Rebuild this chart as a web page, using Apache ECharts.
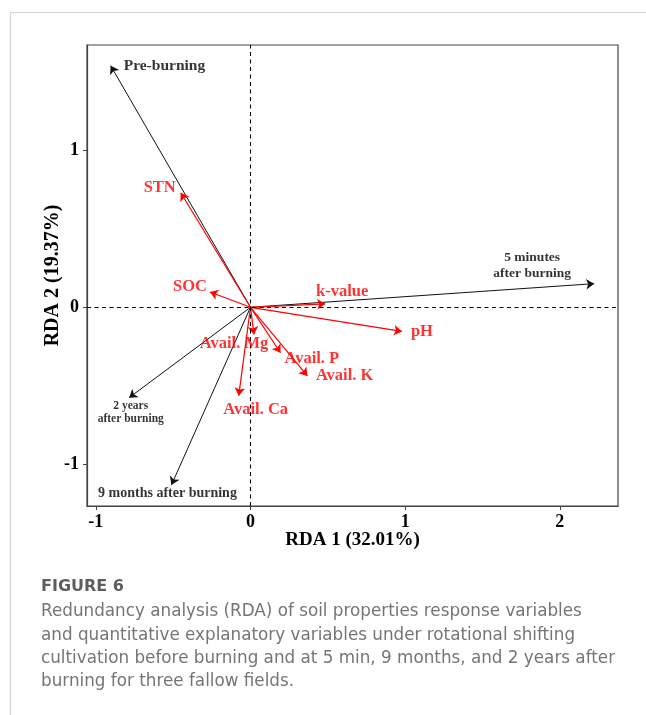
<!DOCTYPE html>
<html><head><meta charset="utf-8">
<script src="https://cdn.jsdelivr.net/npm/echarts@6/dist/echarts.min.js"></script>
<style>html,body{margin:0;padding:0;background:#fff}#c{width:646px;height:715px}</style>
</head><body><div id="c"></div>
<script>
// Explanatory variables (black arrows)
const envNames = ['Pre-burning', '5 minutes\nafter burning', '9 months after burning', '2 years\nafter burning'];
const envRDA1 = [-0.904, 2.222, -0.511, -0.785];
const envRDA2 = [1.542, 0.151, -1.134, -0.577];
// Response variables (red arrows)
const soilNames = ['STN', 'SOC', 'k-value', 'pH', 'Avail. Mg', 'Avail. P', 'Avail. K', 'Avail. Ca'];
const soilRDA1 = [-0.451, -0.262, 0.483, 0.979, 0.023, 0.194, 0.368, -0.076];
const soilRDA2 = [0.731, 0.098, 0.022, -0.154, -0.173, -0.290, -0.438, -0.564];
// Ticks
const xTickValues = [-1, 0, 1, 2];
const yTickValues = [-1, 0, 1];
const xAxisTitle = 'RDA 1 (32.01%)';
const yAxisTitle = 'RDA 2 (19.37%)';
const captionTitle = 'FIGURE 6';
const captionLines = [
  'Redundancy analysis (RDA) of soil properties response variables',
  'and quantitative explanatory variables under rotational shifting',
  'cultivation before burning and at 5 min, 9 months, and 2 years after',
  'burning for three fallow fields.'
];

// Label placement / style (kept separate from data)
const labelStyle = {
  'Pre-burning': {dx: 13, dy: 0, align: 'left', size: 15.5, lh: 16},
  '5 minutes\nafter burning': {dx: -62, dy: -18, align: 'center', size: 13.5, lh: 15.6},
  '9 months after burning': {dx: -4, dy: 8.5, align: 'center', size: 14, lh: 15},
  '2 years\nafter burning': {dx: 1.7, dy: 14.6, align: 'center', size: 11.5, lh: 12.7},
  'STN': {dx: -5, dy: -4.7, align: 'right', size: 16.5, lh: 17},
  'SOC': {dx: -3, dy: -5, align: 'right', size: 16.5, lh: 17},
  'k-value': {dx: 17, dy: -12.5, align: 'center', size: 16.5, lh: 17},
  'pH': {dx: 9, dy: 0, align: 'left', size: 16.5, lh: 17},
  'Avail. Mg': {dx: -20, dy: 9, align: 'center', size: 16.5, lh: 17},
  'Avail. P': {dx: 4, dy: 5.5, align: 'left', size: 16.5, lh: 17},
  'Avail. K': {dx: 8.5, dy: 0, align: 'left', size: 16.5, lh: 17},
  'Avail. Ca': {dx: 17, dy: 14, align: 'center', size: 16.5, lh: 17}
};

const SERIF = '"Liberation Serif", "Times New Roman", serif';
const BLACK = '#111';
const RED = '#ff0000';

function arrowData(names, xs, ys) {
  return names.map((n, i) => ({name: n, coords: [[0, 0], [xs[i], ys[i]]]}));
}
function labelData(names, xs, ys, color) {
  return names.map((n, i) => {
    const s = labelStyle[n];
    return {
      name: n,
      value: [xs[i], ys[i]],
      label: {
        show: true, formatter: n, position: 'inside', offset: [s.dx, s.dy],
        align: s.align, verticalAlign: 'middle', fontSize: s.size, lineHeight: s.lh,
        fontFamily: SERIF, fontWeight: 'bold', color: color
      }
    };
  });
}

const chart = echarts.init(document.getElementById('c'), null, {renderer: 'canvas'});

const axisCommon = {
  type: 'value',
  splitLine: {show: false},
  axisLine: {show: true, onZero: false, lineStyle: {color: '#444', width: 1.2}},
  axisLabel: {fontFamily: SERIF, fontWeight: 'bold', fontSize: 18, color: '#000', margin: 8},
  nameTextStyle: {fontFamily: SERIF, fontWeight: 'bold', color: '#000'},
  nameLocation: 'middle',
  nameMoveOverlap: false
};

chart.setOption({
  animation: false,
  backgroundColor: '#fff',
  grid: {left: 87, right: 28, top: 45, bottom: 209, show: true, borderColor: '#444', borderWidth: 1.2, containLabel: false, outerBoundsMode: 'none'},
  xAxis: Object.assign({}, axisCommon, {
    min: -1.057, max: 2.376,
    axisTick: {show: true, length: 4, customValues: xTickValues, lineStyle: {color: '#444'}},
    axisLabel: Object.assign({}, axisCommon.axisLabel, {customValues: xTickValues, margin: 7}),
    name: xAxisTitle, nameGap: 25,
    nameTextStyle: Object.assign({}, axisCommon.nameTextStyle, {fontSize: 19})
  }),
  yAxis: Object.assign({}, axisCommon, {
    min: -1.268, max: 1.674,
    axisTick: {show: true, length: 4, customValues: yTickValues, lineStyle: {color: '#444'}},
    axisLabel: Object.assign({}, axisCommon.axisLabel, {customValues: yTickValues, margin: 8}),
    name: yAxisTitle, nameGap: 24,
    nameTextStyle: Object.assign({}, axisCommon.nameTextStyle, {fontSize: 20})
  }),
  series: [
    {
      type: 'scatter', data: [], z: 1, silent: true,
      markLine: {
        silent: true, symbol: ['none', 'none'], label: {show: false},
        lineStyle: {type: [4, 3.5], color: '#000', width: 1.1},
        data: [{xAxis: 0}, {yAxis: 0}]
      }
    },
    {
      type: 'lines', coordinateSystem: 'cartesian2d', z: 2, silent: true,
      symbol: ['none', 'arrow'], symbolSize: 8,
      lineStyle: {color: BLACK, width: 1, opacity: 1},
      data: arrowData(envNames, envRDA1, envRDA2)
    },
    {
      type: 'lines', coordinateSystem: 'cartesian2d', z: 3, silent: true,
      symbol: ['none', 'arrow'], symbolSize: 8,
      lineStyle: {color: RED, width: 1.2, opacity: 1},
      data: arrowData(soilNames, soilRDA1, soilRDA2)
    },
    {
      type: 'scatter', z: 4, silent: true, symbolSize: 1,
      itemStyle: {color: 'transparent'},
      data: labelData(envNames, envRDA1, envRDA2, '#000')
    },
    {
      type: 'scatter', z: 5, silent: true, symbolSize: 1,
      itemStyle: {color: 'transparent'},
      data: labelData(soilNames, soilRDA1, soilRDA2, RED)
    }
  ],
  graphic: [
    {type: 'line', silent: true, shape: {x1: 10.5, y1: 12.5, x2: 646, y2: 12.5}, style: {stroke: '#d2d2d2', lineWidth: 1.2}},
    {type: 'line', silent: true, shape: {x1: 10.5, y1: 12.5, x2: 10.5, y2: 715}, style: {stroke: '#d2d2d2', lineWidth: 1.2}},
    {type: 'text', silent: true, x: 41, y: 587, style: {text: captionTitle, fill: '#5e5e5e', font: 'bold 16px "DejaVu Sans"', verticalAlign: 'middle'}}
  ].concat(captionLines.map((t, i) => ({
    type: 'text', silent: true, x: 41, y: 612 + i * 23.2,
    style: {text: t, fill: '#757575', font: '16.8px "DejaVu Sans"', verticalAlign: 'middle'}
  })))
});
</script></body></html>
